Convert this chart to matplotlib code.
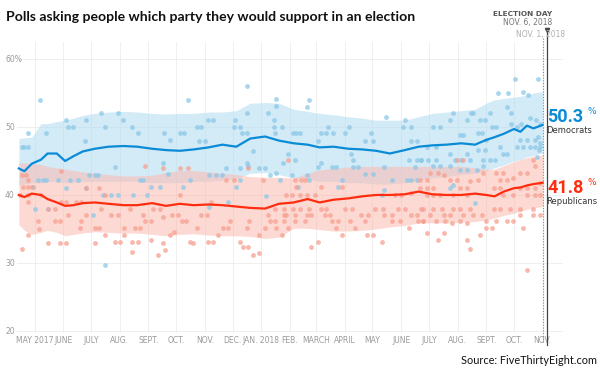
import matplotlib
matplotlib.use("Agg")
import matplotlib.pyplot as plt
import matplotlib.transforms as mtransforms
import numpy as np

# trend line nodes
trend_dates = ["2017-04-14", "2017-04-20", "2017-04-28", "2017-05-08", "2017-05-15", "2017-05-25",
               "2017-06-03", "2017-06-12", "2017-06-22", "2017-07-05", "2017-07-20", "2017-08-05",
               "2017-08-20", "2017-09-05", "2017-09-20", "2017-10-05", "2017-10-20", "2017-11-05",
               "2017-11-20", "2017-12-05", "2017-12-20", "2018-01-05", "2018-01-20", "2018-02-05",
               "2018-02-20", "2018-03-05", "2018-03-20", "2018-04-05", "2018-04-20", "2018-05-05",
               "2018-05-20", "2018-06-05", "2018-06-20", "2018-07-05", "2018-07-20", "2018-08-05",
               "2018-08-20", "2018-09-01", "2018-09-10", "2018-09-20", "2018-10-01", "2018-10-08",
               "2018-10-15", "2018-10-22", "2018-11-01"]
dem = [43.9, 43.5, 44.6, 45.2, 46.1, 46.1, 45.0, 45.7, 46.4, 46.8, 47.1, 47.2, 47.1, 46.8, 46.6,
       46.5, 46.7, 47.0, 47.4, 47.1, 48.3, 48.6, 48.0, 47.6, 47.4, 47.0, 47.1, 46.8, 46.7, 46.5,
       46.1, 46.6, 47.1, 47.3, 47.4, 47.6, 47.4, 48.1, 48.5, 49.0, 49.7, 49.3, 50.2, 49.8, 50.3]
rep = [40.0, 39.7, 40.2, 40.0, 39.4, 38.9, 38.4, 38.5, 38.8, 38.9, 38.7, 38.5, 38.5, 38.8, 38.4,
       38.7, 38.5, 38.6, 38.5, 38.3, 38.1, 38.0, 38.7, 38.9, 39.4, 38.9, 39.3, 39.5, 39.8, 40.0,
       40.0, 40.1, 40.5, 40.1, 40.0, 40.0, 40.2, 40.0, 39.8, 40.5, 41.0, 41.1, 41.4, 41.6, 41.8]
dem_hi = [48.3, 48.4, 48.5, 50.5, 50.5, 50.8, 51.0, 51.3, 51.7, 52.0, 52.2, 52.3, 52.2, 52.0, 51.9,
          52.0, 52.0, 52.2, 52.2, 52.4, 53.5, 53.6, 53.5, 52.6, 52.3, 52.0, 51.8, 51.5, 51.3, 51.0,
          51.0, 51.0, 51.5, 52.0, 52.2, 52.4, 52.6, 53.5, 54.0, 54.2, 54.4, 54.5, 54.7, 55.0, 55.2]
dem_lo = [41.5, 41.6, 41.8, 41.8, 42.0, 42.0, 41.8, 41.8, 42.0, 42.0, 42.0, 42.0, 42.0, 41.8, 41.8,
          41.8, 42.0, 42.0, 42.2, 42.4, 43.2, 43.3, 43.0, 42.5, 42.3, 42.0, 42.0, 41.8, 41.8, 41.6,
          41.6, 41.8, 42.2, 42.5, 42.7, 43.0, 43.2, 43.6, 44.0, 44.4, 45.0, 45.2, 45.6, 45.8, 46.2]
rep_hi = [44.7, 44.7, 44.6, 44.5, 44.2, 44.0, 43.8, 43.6, 43.4, 43.2, 43.0, 42.8, 42.8, 42.9, 43.3,
          43.6, 43.6, 43.4, 43.2, 43.0, 42.7, 42.6, 42.6, 42.5, 43.2, 43.7, 43.9, 44.1, 44.2, 44.2,
          44.2, 44.2, 44.2, 44.2, 44.2, 44.2, 44.0, 43.8, 43.8, 44.3, 44.9, 45.2, 45.5, 45.7, 45.9]
rep_lo = [35.6, 34.8, 34.2, 34.5, 34.8, 34.5, 34.0, 34.2, 34.4, 34.6, 34.5, 34.4, 34.4, 34.2, 34.0,
          34.2, 34.3, 34.1, 34.0, 34.0, 33.9, 33.6, 33.8, 35.1, 35.1, 34.9, 34.7, 34.7, 34.8, 35.0,
          35.3, 35.5, 35.9, 35.9, 35.9, 36.0, 36.1, 36.3, 36.6, 37.0, 37.3, 37.6, 37.9, 38.1, 38.3]

# individual polls: days after May 1, 2017, and share
dem_poll_day = [6, -14, -11, -7, -7, 12, 34, 36, 41, 56, 54, 72, 76, 87, 90, 96, 105, 112, 4, 9, 12, 25,
                38, 47, 59, 65, 68, 0, 14, 63, 76, 90, 106, 114, 117, 121, -2, 34, 56, 74, 83,
                166, 229, 261, 140, 146, 157, 161, 175, 180, 187, 193, 178, 184, 217, 216, 222, 224,
                229, 236, 230, 252, 261, 259, 267, 259, 260, 230, 231, 139, 144, 189, 196, 202, 207,
                222, 243, 249, 218, 222, 254, 261, 265, 268, 126, 135, 160, 168, 189, 209, 250,
                294, 297, 279, 283, 287, 310, 315, 306, 317, 322, 335, 340, 342, 344, 364, 357, 366,
                380, 398, 407, 407, 413, 400, 281, 274, 310, 306, 321, 326, 278, 294, 297, 332, 344,
                350, 357, 366, 378, 386, 405, 413, 418, 411, 402, 407, 413, 285, 328, 375, 378,
                519, 544, 501, 512, 528, 533, 452, 472, 474, 449, 467, 481, 487, 492, 510, 515, 494,
                499, 479, 483, 515, 521, 526, 535, 542, 546, 431, 438, 460, 463, 488, 524, 532, 541,
                546, 424, 434, 449, 467, 479, 487, 503, 510, 521, 528, 535, 541, 546, 418, 425, 434,
                454, 461, 470, 485, 492, 497, 506, 431, 438, 449, 460, 467, 478, 485, 476, 449, 452,
                544, 545, 543]
dem_poll_pct = [54.0, 47.1, 47.1, 47.1, 49.1, 49.1, 51.0, 50.0, 50.0, 51.0, 48.0, 52.0, 50.0, 44.1, 52.0,
                51.0, 50.0, 49.1, 42.2, 42.2, 42.2, 42.2, 42.2, 42.2, 43.0, 43.0, 43.0, 38.0, 38.0, 37.1,
                29.7, 40.0, 40.0, 42.2, 42.2, 40.0, 41.1, 41.0, 41.0, 40.0, 40.0,
                54.0, 56.0, 54.1, 49.1, 48.1, 49.1, 49.1, 50.0, 50.0, 51.0, 51.0, 48.0, 48.0, 51.0, 50.0,
                50.0, 49.1, 49.1, 46.5, 52.0, 52.0, 53.1, 50.0, 50.0, 51.0, 49.1, 44.7, 44.3, 44.7, 43.1,
                43.0, 43.0, 43.0, 44.0, 44.0, 44.0, 44.0, 41.1, 42.2, 43.0, 43.2, 42.2, 44.7, 41.2, 41.2,
                41.1, 42.2, 38.2, 39.0, 39.8,
                53.0, 54.0, 49.1, 49.1, 49.1, 49.1, 49.1, 48.0, 50.0, 49.1, 49.1, 50.0, 46.1, 45.1, 49.1,
                48.0, 48.0, 51.5, 50.0, 50.0, 48.0, 48.0, 51.0, 45.1, 46.1, 44.7, 44.1, 44.1, 44.1, 42.9,
                42.9, 42.2, 42.2, 44.1, 44.1, 43.1, 43.1, 44.1, 42.2, 45.1, 45.1, 45.1, 44.1, 42.2, 42.2,
                42.2, 41.1, 41.1, 40.0, 40.7,
                57.0, 57.0, 55.0, 55.0, 55.2, 54.7, 52.0, 52.0, 52.0, 51.0, 51.0, 51.0, 51.0, 52.0, 53.0,
                52.0, 50.0, 50.0, 49.1, 49.1, 50.5, 50.0, 50.5, 51.3, 51.0, 50.5, 50.0, 50.0, 48.8, 48.8,
                48.1, 48.1, 48.1, 48.1, 47.6, 47.1, 47.1, 46.1, 46.1, 46.6, 46.6, 47.1, 46.1, 47.1, 47.1,
                47.1, 47.1, 47.1, 45.1, 45.1, 45.1, 45.1, 45.1, 45.1, 45.1, 45.1, 45.1, 46.1, 44.2, 44.2,
                44.2, 43.7, 43.7, 43.7, 44.2, 38.8, 41.0, 41.5, 48.6, 46.6, 45.6]

rep_poll_day = [-16, -13, -7, -3, -7, -7, -14, -9, -7, 29, 7, 14, 22, 29, 34, 4, 22, 27, 5, 14, 27, 34,
                -14, -7, 36, 45, 50, 50, 49, 56, 56, 65, 70, 76, 76, 65, 70, 87, 92, 83, 90, 97, 105,
                112, 105, 97, 108, 114, 119, 117, 103, 119, 72,
                128, 135, 126, 139, 126, 139, 133, 141, 146, 151, 148, 155, 159, 164, 168, 171, 157,
                175, 180, 186, 191, 187, 193, 198, 204, 209, 211, 222, 225, 231, 236, 242, 229, 232,
                243, 249, 254, 260, 252, 260, 261, 267, 269, 139, 157, 166, 231, 274, 247, 207, 216,
                288, 292, 283, 272, 278, 287, 294, 270, 279, 287, 296, 272, 281, 294, 299, 270, 281,
                292, 274, 299, 306, 314, 319, 310, 315, 321, 328, 332, 326, 335, 343, 341, 346, 353,
                360, 357, 359, 366, 375, 368, 376, 378, 386, 386, 395, 393, 400, 405, 407, 413, 414,
                420, 418, 332, 389, 396, 407, 281, 310, 303,
                456, 463, 539, 427, 436, 442, 485, 499, 506, 503, 510, 517, 524, 532, 541, 416, 424,
                449, 456, 470, 479, 416, 424, 431, 460, 467, 496, 503, 524, 532, 541, 546, 424, 431,
                438, 452, 467, 506, 517, 532, 541, 546, 420, 431, 440, 452, 460, 470, 496, 503, 514,
                524, 539, 427, 442, 449, 463, 474, 483, 420, 434, 443, 451, 460, 467, 488, 499, 510,
                517, 524, 539, 546, 424, 442, 436, 481, 488, 494, 467, 470, 532, 528]
rep_poll_pct = [40.0, 41.1, 41.1, 41.1, 39.0, 40.0, 43.0, 43.0, 42.2, 43.6, 40.0, 38.0, 38.0, 39.0, 39.0,
                36.1, 36.1, 36.1, 35.0, 33.0, 33.0, 33.0, 32.0, 34.1, 37.1, 39.0, 39.0, 36.1, 35.1, 41.0,
                37.1, 32.9, 41.0, 40.0, 34.1, 35.1, 35.1, 33.1, 33.1, 37.1, 37.1, 35.1, 33.1, 33.1, 31.6,
                34.1, 35.1, 35.1, 36.1, 37.1, 38.0, 44.3, 38.0,
                38.0, 38.0, 36.1, 36.8, 33.4, 32.9, 31.1, 31.9, 34.1, 34.6, 37.1, 37.1, 36.1, 36.1, 33.1,
                32.9, 40.0, 35.1, 37.1, 37.1, 39.0, 33.1, 33.1, 34.1, 35.1, 35.1, 36.1, 33.1, 32.4, 32.4,
                31.1, 31.4, 35.1, 36.1, 34.1, 35.1, 36.1, 36.1, 37.1, 38.0, 35.1, 34.1, 37.1, 44.0, 44.0,
                44.0, 44.0, 45.1, 42.2, 42.2, 42.2,
                42.2, 42.2, 41.2, 40.0, 40.0, 40.0, 40.0, 38.0, 38.0, 38.0, 38.0, 37.1, 37.1, 37.1, 37.1,
                36.1, 36.1, 36.1, 35.1, 32.4, 33.1, 37.1, 37.1, 38.0, 38.0, 36.1, 36.1, 34.1, 35.1, 38.0,
                38.0, 36.1, 35.1, 37.1, 37.1, 36.1, 34.1, 34.1, 33.1, 38.0, 38.0, 37.1, 37.1, 36.1, 36.1,
                38.0, 38.0, 35.1, 37.1, 37.1, 36.1, 36.1, 38.0, 41.1, 40.0, 40.0, 40.3, 42.2, 41.1, 40.0,
                45.1, 45.1, 45.1, 43.2, 43.2, 42.9, 43.2, 43.2, 43.2, 42.2, 42.2, 42.5, 43.2, 43.2, 44.2,
                42.2, 42.2, 42.2, 42.2, 42.0, 42.2, 41.0, 41.0, 41.0, 41.0, 41.0, 41.0, 41.0, 41.0, 41.0,
                41.0, 41.7, 40.0, 40.0, 40.0, 40.0, 40.0, 40.0, 40.0, 40.0, 40.0, 40.0, 38.0, 38.0, 38.0,
                38.0, 38.0, 38.0, 38.0, 38.0, 38.0, 38.0, 38.0, 37.1, 37.1, 37.1, 37.1, 37.1, 37.1, 36.1,
                36.1, 36.1, 35.9, 36.1, 35.9, 36.1, 36.1, 36.1, 36.1, 37.1, 37.1, 37.1, 34.4, 34.4, 33.4,
                34.1, 35.1, 35.1, 33.4, 32.0, 29.0, 35.1]

month_ticks = ["2017-05-01", "2017-06-01", "2017-07-01", "2017-08-01", "2017-09-01", "2017-10-01",
               "2017-11-01", "2017-12-01", "2018-01-01", "2018-02-01", "2018-03-01", "2018-04-01",
               "2018-05-01", "2018-06-01", "2018-07-01", "2018-08-01", "2018-09-01", "2018-10-01",
               "2018-11-01"]
month_labels = ["MAY 2017", "JUNE", "JULY", "AUG.", "SEPT.", "OCT.", "NOV.", "DEC.", "JAN. 2018",
                "FEB.", "MARCH", "APRIL", "MAY", "JUNE", "JULY", "AUG.", "SEPT.", "OCT.", "NOV."]
y_ticks = [20, 30, 40, 50, 60]
y_labels = ["20", "30", "40", "50", "60%"]

blue = "#0a8bd6"
red = "#ff2d0f"
narrow = ["Liberation Sans Narrow", "DejaVu Sans"]

t = np.array(trend_dates, dtype="datetime64[D]")
base = np.datetime64("2017-05-01")
dem_x = base + np.array(dem_poll_day).astype("timedelta64[D]")
rep_x = base + np.array(rep_poll_day).astype("timedelta64[D]")

fig = plt.figure(figsize=(6, 3.7), dpi=100)
ax = fig.add_axes([17 / 600, 37 / 370, 546 / 600, 291 / 370])

ax.fill_between(t, dem_lo, dem_hi, color="#b0daf2", alpha=0.55, lw=0, zorder=1)
ax.fill_between(t, rep_lo, rep_hi, color="#fcbab0", alpha=0.55, lw=0, zorder=1)

ax.scatter(dem_x, dem_poll_pct, s=12, color="#8cc8e8", alpha=0.75, lw=0, zorder=2)
ax.scatter(rep_x, rep_poll_pct, s=12, color="#f7a090", alpha=0.75, lw=0, zorder=2)

ax.plot(t, dem, color=blue, lw=1.6, zorder=3)
ax.plot(t, rep, color=red, lw=1.6, zorder=3)

ax.set_xlim(np.datetime64("2017-04-12"), np.datetime64("2018-11-23"))
ax.set_ylim(19.7, 62.5)
ax.set_xticks(np.array(month_ticks, dtype="datetime64[D]"))
ax.set_xticklabels(month_labels, fontsize=5.5, color="#9a9a9a", family=narrow)
ax.set_yticks(y_ticks)
ax.set_yticklabels(y_labels, fontsize=5.5, color="#9a9a9a", ha="left", family=narrow)
ax.tick_params(axis="y", length=0, pad=8.6)
ax.tick_params(axis="x", length=0, pad=2)
ax.grid(True, color="#ececec", lw=0.6)
ax.set_axisbelow(True)
for s in ax.spines.values():
    s.set_visible(False)

# election day and last update markers
trans = mtransforms.blended_transform_factory(ax.transData, ax.transAxes)
eday = np.datetime64("2018-11-06")
nov1 = np.datetime64("2018-11-01")
ax.plot([eday, eday], [-0.041, 1.031], color="#444444", lw=0.9, transform=trans, clip_on=False, zorder=4)
ax.plot([eday], [1.041], marker="v", ms=3, color="#444444", transform=trans, clip_on=False, zorder=4)
ax.plot([nov1, nov1], [-0.03, 1.014], color="#888888", lw=0.8, ls=(0, (1, 1.5)), transform=trans,
        clip_on=False, zorder=4)

fig.text(552 / 600, 1 - 14 / 370, "ELECTION DAY", ha="right", va="center", fontsize=5.3,
         weight="bold", color="#555555", family=narrow)
fig.text(552 / 600, 1 - 22 / 370, "NOV. 6, 2018", ha="right", va="center", fontsize=5.5,
         color="#777777", family=narrow)
fig.text(565 / 600, 1 - 34 / 370, "NOV. 1, 2018", ha="right", va="center", fontsize=5.5,
         color="#b0b0b0", family=narrow)

# end labels
fig.text(547 / 600, 1 - 117 / 370, f"{dem[-1]:.1f}", ha="left", va="center", fontsize=13,
         weight="bold", color=blue, family="Roboto")
fig.text(587 / 600, 1 - 111 / 370, "%", ha="left", va="center", fontsize=6.5, color=blue)
fig.text(546 / 600, 1 - 131 / 370, "Democrats", ha="left", va="center", fontsize=6, color="#333333")
fig.text(547 / 600, 1 - 188 / 370, f"{rep[-1]:.1f}", ha="left", va="center", fontsize=13,
         weight="bold", color=red, family="Roboto")
fig.text(587 / 600, 1 - 182 / 370, "%", ha="left", va="center", fontsize=6.5, color=red)
fig.text(546 / 600, 1 - 202 / 370, "Republicans", ha="left", va="center", fontsize=6, color="#333333")

fig.text(6 / 600, 1 - 17 / 370, "Polls asking people which party they would support in an election",
         ha="left", va="center", fontsize=10.1, weight="bold", family="Lato", color="#111111")
fig.text(597 / 600, 1 - 361 / 370, "Source: FiveThirtyEight.com", ha="right", va="center",
         fontsize=7.8, family="Lato", color="#111111")

fig.savefig("out.png", dpi=100)
